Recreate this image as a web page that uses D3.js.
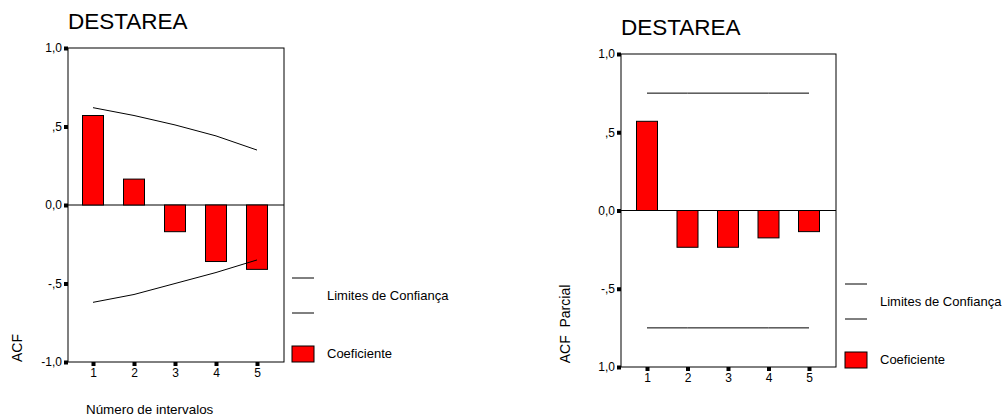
<!DOCTYPE html>
<html>
<head>
<meta charset="utf-8">
<script src="https://cdn.jsdelivr.net/npm/d3@7"></script>
<style>
  body { margin: 0; background: #fff; }
  svg { font-family: Arial, "Liberation Sans", sans-serif; }
  .axis path { display: none; }
  .axis text { font-size: 12px; fill: #000; }
</style>
</head>
<body>
<div class="graph"></div>
<script>
// lags shown on the x axis
const lags = [1, 2, 3, 4, 5];

// ACF panel
const acfValues = [0.57, 0.165, -0.17, -0.36, -0.41];
const acfUpper = [0.62, 0.57, 0.51, 0.44, 0.35];
const acfLower = [-0.62, -0.57, -0.50, -0.43, -0.35];

// partial ACF panel
const pacfValues = [0.57, -0.235, -0.235, -0.175, -0.135];
const pacfUpper = [0.75, 0.75, 0.75, 0.75, 0.75];
const pacfLower = [-0.75, -0.75, -0.75, -0.75, -0.75];

// y ticks and their labels as printed
const yTicks = [1, 0.5, 0, -0.5, -1];
const acfTickLabels = ["1,0", ",5", "0,0", "-,5", "-1,0"];
const pacfTickLabels = ["1,0", ",5", "0,0", "-,5", "1,0"];

const title = "DESTAREA";
const legendLimits = "Limites de Confiança";
const legendCoef = "Coeficiente";

let svg = d3.select(".graph").append("svg")
    .attr("width", 1004)
    .attr("height", 419);

function draw_panel(p) {
    let g = svg.append("g");

    let x = d3.scaleLinear().domain([1, 5]).range([p.x1, p.x5]);
    let y = d3.scaleLinear().domain([-1, 1]).range([p.bottom, p.top]);

    // title
    g.append("text")
        .attr("x", p.titleX)
        .attr("y", p.titleY)
        .style("font-size", "22.5px")
        .text(title);

    // plot box
    g.append("rect")
        .attr("x", p.left)
        .attr("y", p.top)
        .attr("width", p.right - p.left)
        .attr("height", p.bottom - p.top)
        .attr("fill", "none")
        .attr("stroke", "#000")
        .style("stroke-width", "1px");

    // zero line
    g.append("line")
        .attr("x1", p.left).attr("x2", p.right)
        .attr("y1", y(0)).attr("y2", y(0))
        .attr("stroke", "#000");

    // y axis
    let yAxis = g.append("g")
        .attr("class", "axis")
        .attr("transform", "translate(" + p.left + ",0)")
        .call(d3.axisLeft(y)
            .tickValues(yTicks)
            .tickSize(0)
            .tickPadding(6)
            .tickFormat((d, i) => p.tickLabels[i]));
    yAxis.selectAll(".tick").append("rect")
        .attr("x", -4).attr("y", -2)
        .attr("width", 4).attr("height", 4)
        .attr("fill", "#000");

    // x axis
    let xAxis = g.append("g")
        .attr("class", "axis")
        .attr("transform", "translate(0," + p.bottom + ")")
        .call(d3.axisBottom(x)
            .tickValues(lags)
            .tickSize(0)
            .tickPadding(6)
            .tickFormat(d3.format("d")));
    xAxis.selectAll(".tick").append("rect")
        .attr("x", -2).attr("y", 0)
        .attr("width", 4).attr("height", 4)
        .attr("fill", "#000");

    // bars
    let bw = 21;
    g.selectAll(".bar")
        .data(p.values)
        .enter().append("rect")
        .attr("class", "bar")
        .attr("x", (d, i) => x(lags[i]) - bw / 2)
        .attr("y", d => y(Math.max(0, d)))
        .attr("width", bw)
        .attr("height", d => Math.abs(y(d) - y(0)))
        .attr("fill", "#ff0000")
        .attr("stroke", "#000")
        .style("stroke-width", "1px");

    // confidence limits
    let line = d3.line()
        .x((d, i) => x(lags[i]))
        .y(d => y(d));
    [p.upper, p.lower].forEach(arr => {
        g.append("path")
            .attr("d", line(arr))
            .attr("fill", "none")
            .attr("stroke", "#000")
            .style("stroke-width", "1px");
    });

    // y label
    g.append("text")
        .attr("transform", "translate(" + p.yLabelX + "," + p.yLabelY + ") rotate(-90)")
        .attr("text-anchor", "middle")
        .style("font-size", "14px")
        .style("white-space", "pre")
        .text(p.yLabel);

    if (p.xLabel) {
        g.append("text")
            .attr("x", p.xLabelX)
            .attr("y", p.xLabelY)
            .style("font-size", "13.4px")
            .text(p.xLabel);
    }

    // legend
    let lg = g.append("g").attr("transform", "translate(" + p.legX + "," + p.legY + ")");
    [0, 35].forEach(dy => {
        lg.append("line")
            .attr("x1", 0).attr("x2", 22)
            .attr("y1", dy).attr("y2", dy)
            .attr("stroke", "#000");
    });
    lg.append("text")
        .attr("x", 35).attr("y", 22)
        .style("font-size", "13px")
        .text(legendLimits);
    lg.append("rect")
        .attr("x", 0).attr("y", 68)
        .attr("width", 22).attr("height", 16)
        .attr("fill", "#ff0000")
        .attr("stroke", "#000");
    lg.append("text")
        .attr("x", 35).attr("y", 80)
        .style("font-size", "13px")
        .text(legendCoef);
}

draw_panel({
    left: 68, right: 284, top: 48, bottom: 362,
    x1: 93, x5: 257,
    values: acfValues, upper: acfUpper, lower: acfLower,
    tickLabels: acfTickLabels,
    titleX: 68, titleY: 29,
    yLabel: "ACF", yLabelX: 22, yLabelY: 348,
    xLabel: "Número de intervalos", xLabelX: 86, xLabelY: 414,
    legX: 292, legY: 278
});

draw_panel({
    left: 621, right: 836, top: 54, bottom: 367,
    x1: 647, x5: 809,
    values: pacfValues, upper: pacfUpper, lower: pacfLower,
    tickLabels: pacfTickLabels,
    titleX: 621, titleY: 35,
    yLabel: "ACF  Parcial", yLabelX: 570, yLabelY: 324,
    xLabel: null,
    legX: 845, legY: 284
});
</script>
</body>
</html>
